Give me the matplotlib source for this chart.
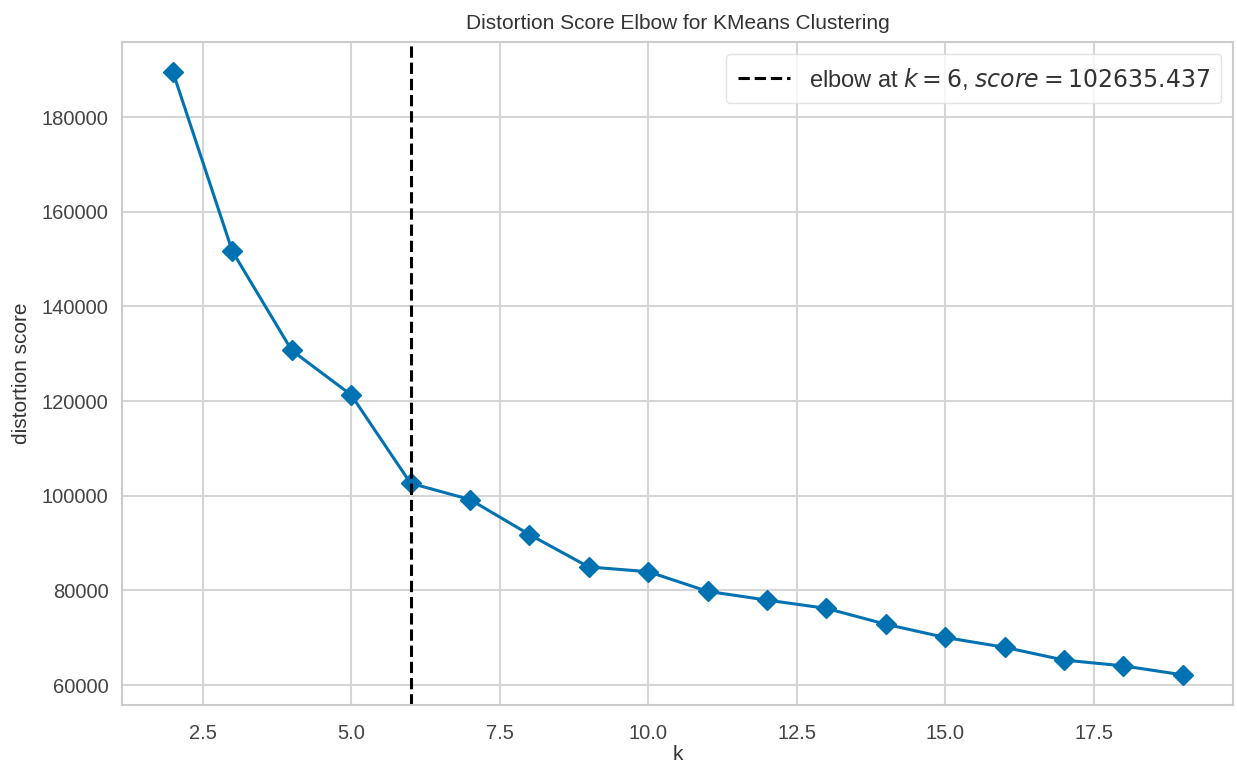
import numpy as np
import matplotlib
matplotlib.use('Agg')
import matplotlib.pyplot as plt

# k values and distortion scores
k_values = [2, 3, 4, 5, 6, 7, 8, 9, 10, 11, 12, 13, 14, 15, 16, 17, 18, 19]
scores = [189500, 151650, 130700, 121300, 102635.437, 99200, 91800, 84950, 83950,
          79800, 77950, 76200, 72850, 70050, 67980, 65280, 64050, 62150]
elbow_k = 6
elbow_score = 102635.437

plt.rcParams['font.family'] = ['Liberation Sans', 'DejaVu Sans']
plt.rcParams['mathtext.fontset'] = 'dejavusans'

fig = plt.figure(figsize=(12.37, 7.63), dpi=100)
ax = fig.add_axes([0.099, 0.076, 0.898, 0.869])

ax.set_facecolor('white')
ax.grid(True, color='#d5d5d5', linewidth=1.5)
ax.set_axisbelow(True)
for s in ax.spines.values():
    s.set_color('#cccccc')
    s.set_linewidth(1.5)

ax.plot(k_values, scores, marker='D', color='#0072B2', linewidth=2.2, markersize=10.5)
ax.axvline(elbow_k, color='black', linestyle='--', linewidth=2.2,
           label=r'elbow at $k={}$, $score={:.3f}$'.format(elbow_k, elbow_score))

ax.set_yticks([60000, 80000, 100000, 120000, 140000, 160000, 180000])
ax.tick_params(axis='both', labelsize=14.5, colors='#444444', length=0)
ax.tick_params(axis='x', pad=14)
ax.tick_params(axis='y', pad=10)
ax.set_xlabel('k', fontsize=15, color='#333333', labelpad=1)
ax.set_ylabel('distortion score', fontsize=15, color='#333333', labelpad=8)
ax.set_title('Distortion Score Elbow for KMeans Clustering', fontsize=15, color='#333333', pad=9)

leg = ax.legend(loc='upper right', fontsize=17, frameon=True, fancybox=True,
                handlelength=2.2, borderpad=0.5)
leg.get_frame().set_edgecolor('#dddddd')
leg.get_frame().set_linewidth(1.0)
for t in leg.get_texts():
    t.set_color('#333333')

fig.savefig('out.png', dpi=100, facecolor='white')
